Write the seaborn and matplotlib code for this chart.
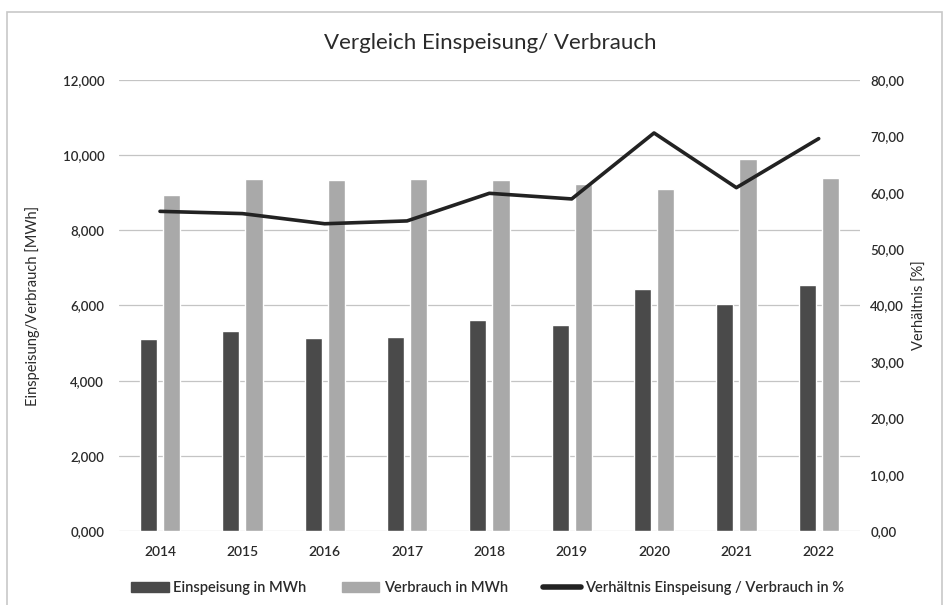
import numpy as np
import pandas as pd
import matplotlib
matplotlib.use("Agg")
import matplotlib.pyplot as plt
import seaborn as sns
from matplotlib.patches import Patch, Rectangle
from matplotlib.lines import Line2D
from matplotlib.ticker import FuncFormatter, FixedLocator

# ---------------- data ----------------
years = ["2014", "2015", "2016", "2017", "2018", "2019", "2020", "2021", "2022"]
einspeisung = [5113, 5309, 5140, 5158, 5610, 5477, 6443, 6053, 6550]
verbrauch = [8946, 9357, 9348, 9357, 9326, 9220, 9096, 9894, 9379]
verhaeltnis = [56.7, 56.3, 54.5, 55.0, 59.9, 58.9, 70.6, 60.9, 69.6]
series_names = ["Einspeisung in MWh", "Verbrauch in MWh"]
line_name = "Verhältnis Einspeisung / Verbrauch in %"
title = "Vergleich Einspeisung/ Verbrauch"
left_label = "Einspeisung/Verbrauch [MWh]"
right_label = "Verhältnis [%]"
left_ticks = [0, 2000, 4000, 6000, 8000, 10000, 12000]
right_ticks = [0, 10, 20, 30, 40, 50, 60, 70, 80]

# ---------------- style ----------------
sns.set_theme(style="white")
plt.rcParams["font.family"] = ["Lato", "DejaVu Sans"]
txt = "#2a2a2a"
c_dark = "#4a4a4a"
c_light = "#a9a9a9"
c_line = "#222222"
c_grid = "#c4c4c4"
wt = "semibold"

fig = plt.figure(figsize=(9.47, 6.05), dpi=100)
fig.patch.set_facecolor("white")
fig.patches.append(Rectangle((7 / 947, -0.01), (942 - 7) / 947, 1 - 12 / 605 + 0.01,
                             transform=fig.transFigure, fill=False,
                             edgecolor="#c8c8c8", lw=1.2))

ax = fig.add_axes([0.1255, 0.1223, 0.908 - 0.1255, 0.8678 - 0.1223])

df = pd.DataFrame({
    "Jahr": years * 2,
    "Wert": einspeisung + verbrauch,
    "Serie": [series_names[0]] * len(years) + [series_names[1]] * len(years),
})
sns.barplot(data=df, x="Jahr", y="Wert", hue="Serie",
            palette=[c_dark, c_light], width=0.56, gap=0.25,
            saturation=1, legend=False, ax=ax)

ax.set_ylim(0, 12000)
ax.yaxis.set_major_locator(FixedLocator(left_ticks))
ax.yaxis.set_major_formatter(FuncFormatter(lambda v, p: f"{v/1000:.3f}".replace(".", ",")))
ax.yaxis.grid(True, color=c_grid, lw=0.9)
ax.xaxis.grid(False)
ax.set_axisbelow(True)
for s in ax.spines.values():
    s.set_visible(False)
ax.tick_params(axis="y", length=0, pad=10.5, labelsize=9.5, labelcolor=txt)
ax.tick_params(axis="x", length=0, pad=11, labelsize=10, labelcolor=txt)
for t in ax.get_xticklabels() + ax.get_yticklabels():
    t.set_fontweight(wt)
ax.set_xlabel("")
ax.set_ylabel(left_label, fontsize=10.5, color=txt)
ax.yaxis.set_label_coords(-0.106, 0.5)

ax2 = ax.twinx()
sns.pointplot(x=years, y=verhaeltnis, ax=ax2, color=c_line, markers="",
              errorbar=None, linewidth=2.6)
for l in ax2.lines:
    l.set_solid_joinstyle("round")
    l.set_solid_capstyle("round")
ax2.set_ylim(0, 80)
ax2.yaxis.set_major_locator(FixedLocator(right_ticks))
ax2.yaxis.set_major_formatter(FuncFormatter(lambda v, p: f"{v:.2f}".replace(".", ",")))
ax2.grid(False)
for s in ax2.spines.values():
    s.set_visible(False)
ax2.tick_params(axis="y", length=0, pad=7.5, labelsize=9.5, labelcolor=txt)
for t in ax2.get_yticklabels():
    t.set_fontweight(wt)
ax2.set_ylabel(right_label, fontsize=10.5, color=txt, rotation=90)
ax2.yaxis.set_label_coords(1.072, 0.5)
ax.set_xlim(-0.5, len(years) - 0.5)

fig.text(0.518, 1 - 43 / 605, title, ha="center", va="center",
         fontsize=16, color=txt)

handles = [Patch(facecolor=c_dark, edgecolor=c_dark),
           Patch(facecolor=c_light, edgecolor=c_light),
           Line2D([], [], color=c_line, lw=4, solid_capstyle="round")]
leg = fig.legend(handles, series_names + [line_name], loc="center",
                 bbox_to_anchor=(0.515, 1 - 588 / 605), ncol=3, frameon=False,
                 fontsize=10.5, handlelength=2.6, handleheight=0.65,
                 handletextpad=0.3, columnspacing=2.4, labelcolor=txt)
for t in leg.get_texts():
    t.set_fontweight(wt)

fig.savefig("out.png", dpi=100, facecolor="white")
